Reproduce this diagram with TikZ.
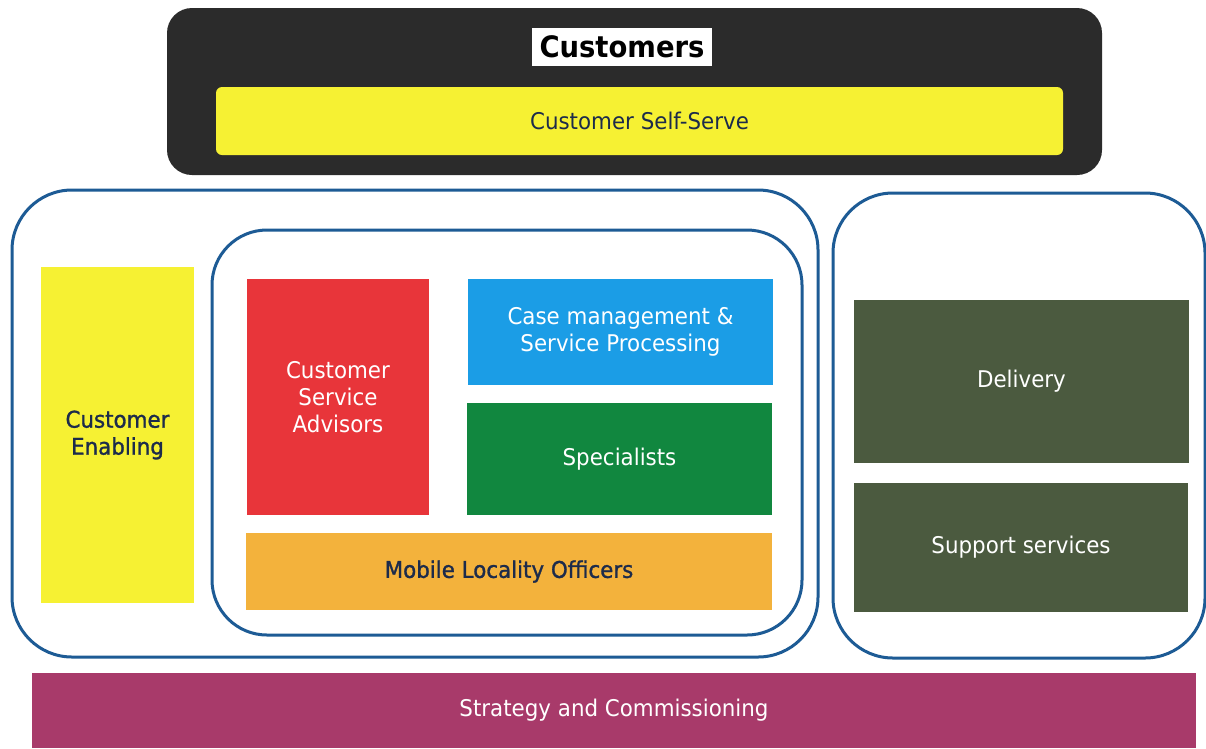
\documentclass[tikz,border=0pt]{standalone}
\usepackage{fontspec}
\setmainfont{DejaVu Sans}[FakeStretch=0.93]
\newfontfamily\semibfont{DejaVu Sans}[FakeStretch=0.93, FakeBold=1.2]
\begin{document}
\begin{tikzpicture}[x=1pt,y=-1pt,
  blk/.style={rectangle, inner sep=0pt, align=center, font=\fontsize{23}{27}\selectfont},
  semib/.style={font=\semibfont\fontsize{23}{27}\selectfont},
  frame/.style={draw=frameblue, line width=3pt, fill=white},
]
\definecolor{frameblue}{HTML}{1D5B95}
\definecolor{cblack}{HTML}{2B2B2B}
\definecolor{cyellow}{HTML}{F6F133}
\definecolor{cred}{HTML}{E8353A}
\definecolor{cblue}{HTML}{1B9DE6}
\definecolor{cgreen}{HTML}{11873F}
\definecolor{corange}{HTML}{F3B23C}
\definecolor{colive}{HTML}{4B5A3F}
\definecolor{cmag}{HTML}{A83A6A}
\definecolor{navy}{HTML}{1C2B4B}
\useasboundingbox (0,0) rectangle (1206,748);
\fill[white] (0,0) rectangle (1206,748);
% top
\node[blk, fill=cblack, minimum width=935, minimum height=167, rounded corners=25pt] (top) at (634.5,91.5) {};
\node[blk, fill=white, minimum width=180, minimum height=38, font=\bfseries\fontsize{29.5}{30}\selectfont, text=black] (cust) at (622,47) {Customers};
\node[blk, fill=cyellow, minimum width=847, minimum height=68, rounded corners=6pt, text=navy] (self) at (639.5,121) {Customer Self-Serve};
% frames
\node[blk, frame, minimum width=806, minimum height=467, rounded corners=60pt] (outer) at (415,423.5) {};
\node[blk, frame, minimum width=590, minimum height=405, rounded corners=55pt] (inner) at (507,432.5) {};
\node[blk, frame, minimum width=372, minimum height=465, rounded corners=60pt] (right) at (1019,425.5) {};
% contents
\node[blk, semib, fill=cyellow, minimum width=153, minimum height=336, text=navy] (enab) at (117.5,435) {Customer\\Enabling};
\node[blk, fill=cred, minimum width=182, minimum height=236, text=white] (csa) at (338,397) {Customer\\Service\\Advisors};
\node[blk, fill=cblue, minimum width=305, minimum height=106, text=white] (case) at (620.5,332) {Case management \&\\Service Processing};
\node[blk, fill=cgreen, minimum width=305, minimum height=112, text=white] (spec) at (619.5,459) {Specialists};
\node[blk, semib, fill=corange, minimum width=526, minimum height=77, text=navy] (mob) at (509,571.5) {Mobile Locality Officers};
\node[blk, fill=colive, minimum width=335, minimum height=163, text=white] (deliv) at (1021.5,381.5) {Delivery};
\node[blk, fill=colive, minimum width=334, minimum height=129, text=white] (supp) at (1021,547.5) {Support services};
\node[blk, fill=cmag, minimum width=1164, minimum height=75, text=white] (strat) at (614,710.5) {Strategy and Commissioning};
\end{tikzpicture}
\end{document}
